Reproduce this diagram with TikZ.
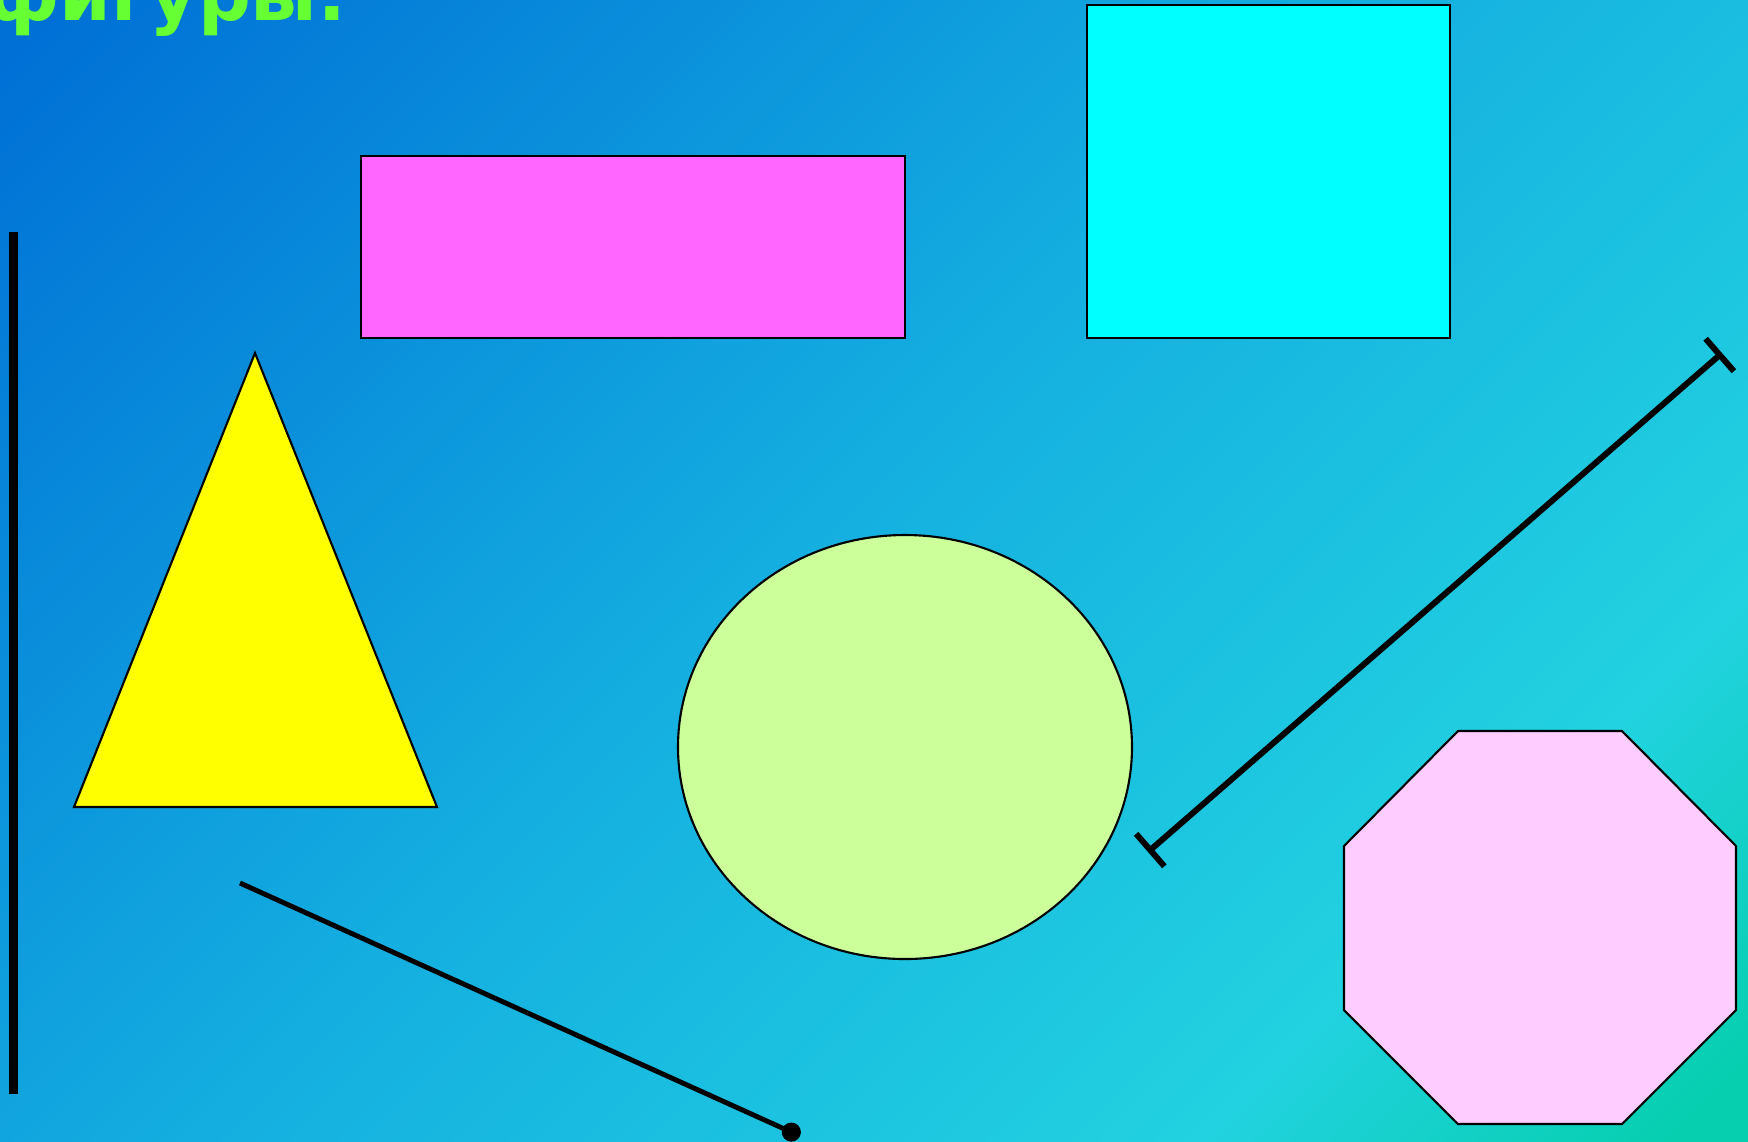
\documentclass[tikz,border=0pt]{standalone}
\usepackage{fontspec}
\usepackage{xcolor}
\usepackage{tikz}
\usetikzlibrary{arrows.meta}
\newfontfamily\titlefont{DejaVu Sans}
\definecolor{bgA}{HTML}{0070D6}
\definecolor{bgB}{HTML}{14AEE0}
\definecolor{bgC}{HTML}{22D2E0}
\definecolor{bgD}{HTML}{05CFAE}
\definecolor{figTitle}{HTML}{66FF33}
\definecolor{figMagenta}{HTML}{FF66FF}
\definecolor{figCyan}{HTML}{00FFFF}
\definecolor{figYellow}{HTML}{FFFF00}
\definecolor{figLime}{HTML}{CCFF99}
\definecolor{figPink}{HTML}{FFCCFF}
\pgfdeclarehorizontalshading{bgshade}{100bp}{color(0bp)=(bgA); color(16bp)=(bgA); color(47bp)=(bgB); color(72bp)=(bgC); color(84bp)=(bgD); color(100bp)=(bgD)}

\begin{document}
\begin{tikzpicture}[
  x=0.01cm, y=-0.01cm,
  >=Stealth,
  shape edge/.style={draw=black, line width=0.6pt},
  stroke/.style={draw=black, line width=#1},
  title node/.style={font=\titlefont\bfseries\fontsize{21}{25}\selectfont, text=figTitle, inner sep=0pt},
]
% background
\shade[shading=bgshade, shading angle=-45] (0,0) rectangle (1748,1141);
\useasboundingbox (0,0) rectangle (1748,1141);

% title, cut at the top edge
\node[title node, anchor=base east] (title) at (348,20) {фигуры:};

% filled shapes
\draw[shape edge, fill=figMagenta] (361,156) rectangle (905,338);
\draw[shape edge, fill=figCyan] (1087,5) rectangle (1450,338);
\draw[shape edge, fill=figYellow] (255,353) -- (437,807) -- (74,807) -- cycle;
\draw[shape edge, fill=figLime] (905,747) ellipse [x radius=227, y radius=212];
\draw[shape edge, fill=figPink] (1458,731) -- (1622,731) -- (1736,846) -- (1736,1010)
  -- (1622,1124) -- (1458,1124) -- (1344,1010) -- (1344,846) -- cycle;

% lines
\draw[stroke=2.4pt] (13.5,232) -- (13.5,1094);
\draw[stroke=1.4pt, -{Circle[length=0.19cm]}] (240,883) -- (800,1136);
\draw[stroke=1.7pt, {Bar[width=0.43cm]}-{Bar[width=0.43cm]}] (1148,852) -- (1722,353);

\end{tikzpicture}
\end{document}
